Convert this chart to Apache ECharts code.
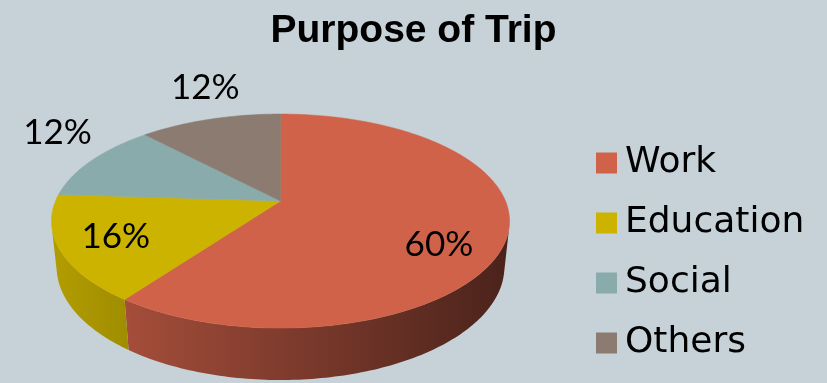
<!DOCTYPE html>
<html>
<head>
<meta charset="utf-8">
<script src="https://cdn.jsdelivr.net/npm/echarts@6/dist/echarts.min.js"></script>
<style>
  html, body { margin: 0; padding: 0; background: #c6d1d8; }
  #chart { width: 827px; height: 383px; }
</style>
</head>
<body>
<div id="chart"></div>
<script>
// Purpose of trip, share of trips in percent
const categories = ['Work', 'Education', 'Social', 'Others'];
const shares = [60, 16, 12, 12];

const sliceColors = ['#d0624a', '#cbb300', '#8aabac', '#8b7b70'];

// Perspective view of the pie disc (radius = 1 unit)
const VIEW = {
  cx: 280.5,        // screen position of the disc centre
  cy: 201,
  scale: 225,       // pixels per radius at the centre depth
  rOverD: 0.211,    // radius / camera distance (perspective strength)
  tilt: Math.asin(0.459),
  thickness: 0.231  // disc height in radius units
};
const sinT = Math.sin(VIEW.tilt);
const cosT = Math.cos(VIEW.tilt);

// theta: clockwise from 12 o'clock (far side), r: radius fraction, y: height (0 = top face)
function project(theta, r, y) {
  const x = r * Math.sin(theta);
  const z = -r * Math.cos(theta);
  const depth = 1 - (y * sinT + z * cosT) * VIEW.rOverD;
  return [
    VIEW.cx + VIEW.scale * x / depth,
    VIEW.cy - VIEW.scale * (y * cosT - z * sinT) / depth
  ];
}

// the outer wall faces the camera where cos(theta) < -r/(d cos tilt)
const wallEdge = Math.acos(-VIEW.rOverD / cosT);
const wallFrom = wallEdge;
const wallTo = 2 * Math.PI - wallEdge;

// where each percentage sits: radius fraction plus a small pixel nudge
const labelPlace = [
  { r: 0.71, dx: 0, dy: 20 },
  { r: 0.76, dx: 0, dy: 0 },
  { r: 1.2, dx: 0, dy: -20 },
  { r: 1.2, dx: 7, dy: -18 }
];

const total = shares.reduce((s, v) => s + v, 0);
const starts = shares.map((_, i) => shares.slice(0, i).reduce((s, v) => s + v, 0));

function shade(hex, f) {
  const n = parseInt(hex.slice(1), 16);
  const r = Math.round(((n >> 16) & 255) * f);
  const g = Math.round(((n >> 8) & 255) * f);
  const b = Math.round((n & 255) * f);
  return 'rgb(' + r + ',' + g + ',' + b + ')';
}

function arc(a0, a1, y) {
  const pts = [];
  const steps = Math.max(2, Math.ceil((a1 - a0) / (Math.PI / 180)));
  for (let k = 0; k <= steps; k++) {
    pts.push(project(a0 + (a1 - a0) * k / steps, 1, y));
  }
  return pts;
}

function makeRender(i) {
  return function (params, api) {
    const a0 = api.value(0) / total * 2 * Math.PI;
    const a1 = (api.value(0) + api.value(1)) / total * 2 * Math.PI;
    const color = sliceColors[i];
    const children = [];

    const lo = Math.max(a0, wallFrom);
    const hi = Math.min(a1, wallTo);
    if (hi > lo) {
      const pts = arc(lo, hi, 0).concat(arc(lo, hi, -VIEW.thickness).reverse());
      children.push({
        type: 'polygon',
        z2: 1,
        shape: { points: pts },
        style: {
          fill: {
            type: 'linear', global: true,
            x: VIEW.cx - VIEW.scale, y: 0, x2: VIEW.cx + VIEW.scale, y2: 0,
            colorStops: [
              { offset: 0, color: shade(color, 0.87) },
              { offset: 1, color: shade(color, 0.36) }
            ]
          },
          stroke: null
        }
      });
    }

    children.push({
      type: 'polygon',
      z2: 10,
      shape: { points: [project(0, 0, 0)].concat(arc(a0, a1, 0)) },
      style: { fill: color, stroke: color, lineWidth: 0.5 }
    });

    const p = labelPlace[i];
    const mid = (a0 + a1) / 2;
    const at = project(mid, p.r, 0);
    children.push({
      type: 'text',
      z2: 100,
      x: at[0] + p.dx,
      y: at[1] + p.dy,
      style: {
        text: api.value(1) + '%',
        fill: '#000',
        font: '35px Lato',
        align: 'center',
        verticalAlign: 'middle'
      }
    });

    return { type: 'group', children: children };
  };
}

const chart = echarts.init(document.getElementById('chart'), null, { renderer: 'canvas' });

chart.setOption({
  backgroundColor: '#c6d1d8',
  animation: false,
  title: {
    text: 'Purpose of Trip',
    left: 'center',
    top: 7,
    padding: [5, 9, 5, 0],
    textStyle: {
      fontFamily: 'Liberation Sans',
      fontWeight: 'bold',
      fontSize: 39,
      color: '#000'
    }
  },
  legend: {
    orient: 'vertical',
    left: 591,
    top: 138,
    icon: 'rect',
    itemWidth: 21,
    itemHeight: 21,
    itemGap: 20,
    data: categories,
    textStyle: {
      fontFamily: 'DejaVu Sans',
      fontSize: 36,
      lineHeight: 40,
      color: '#000',
      padding: [0, 0, 0, 3]
    }
  },
  series: categories.map((name, i) => ({
    type: 'custom',
    name: name,
    coordinateSystem: 'none',
    itemStyle: { color: sliceColors[i] },
    data: [[starts[i], shares[i]]],
    renderItem: makeRender(i)
  }))
});
</script>
</body>
</html>
